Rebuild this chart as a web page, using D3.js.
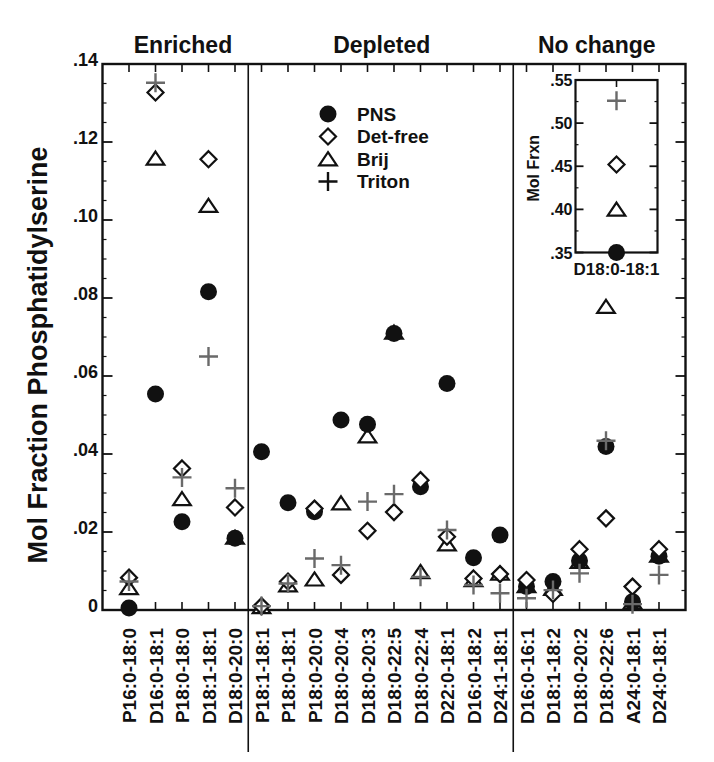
<!DOCTYPE html>
<html>
<head>
<meta charset="utf-8">
<script src="https://cdn.jsdelivr.net/npm/d3@7"></script>
<style>
  html, body { margin: 0; padding: 0; background: #fff; }
  svg { display: block; font-family: "Liberation Sans", Arial, Helvetica, sans-serif; font-weight: bold; }
</style>
</head>
<body>
<svg id="chart" width="714" height="762"></svg>
<script>
// lipid species, in plotting order
const categories = [
  'P16:0-18:0', 'D16:0-18:1', 'P18:0-18:0', 'D18:1-18:1', 'D18:0-20:0',
  'P18:1-18:1', 'P18:0-18:1', 'P18:0-20:0', 'D18:0-20:4', 'D18:0-20:3', 'D18:0-22:5',
  'D18:0-22:4', 'D22:0-18:1', 'D16:0-18:2', 'D24:1-18:1',
  'D16:0-16:1', 'D18:1-18:2', 'D18:0-20:2', 'D18:0-22:6', 'A24:0-18:1', 'D24:0-18:1'
];
const sections = [
  { name: 'Enriched', first: 'P16:0-18:0', last: 'D18:0-20:0' },
  { name: 'Depleted', first: 'P18:1-18:1', last: 'D24:1-18:1' },
  { name: 'No change', first: 'D16:0-16:1', last: 'D24:0-18:1' }
];
const pns = [0.0005, 0.0554, 0.0226, 0.0816, 0.0184, 0.0406, 0.0275, 0.0252, 0.0487, 0.0476, 0.0709,
  0.0316, 0.0581, 0.0134, 0.0192, 0.0060, 0.0073, 0.0126, 0.0419, 0.0021, 0.0138];
const detFree = [0.0083, 0.1327, 0.0363, 0.1156, 0.0263, 0.0010, 0.0073, 0.0260, 0.0090, 0.0203, 0.0251,
  0.0333, 0.0188, 0.0081, 0.0092, 0.0077, 0.0041, 0.0156, 0.0235, 0.0060, 0.0156];
const brij = [0.0057, 0.1158, 0.0285, 0.1037, 0.0186, 0.0008, 0.0064, 0.0079, 0.0274, 0.0446, 0.0712,
  0.0098, 0.0169, 0.0077, 0.0094, 0.0062, 0.0055, 0.0124, 0.0778, 0.0020, 0.0140];
const triton = [0.0073, 0.1352, 0.0340, 0.0650, 0.0312, 0.0010, 0.0068, 0.0132, 0.0115, 0.0278, 0.0297,
  0.0085, 0.0205, 0.0064, 0.0043, 0.0030, 0.0051, 0.0094, 0.0434, 0.0015, 0.0090];
const yTicks = [0, 0.02, 0.04, 0.06, 0.08, 0.10, 0.12, 0.14];
const yTickLabels = ['0', '.02', '.04', '.06', '.08', '.10', '.12', '.14'];

// inset: the one dominant species, plotted on its own scale
const insetCategory = 'D18:0-18:1';
const insetValues = { pns: 0.350, detFree: 0.452, brij: 0.400, triton: 0.526 };
const insetTicks = [0.35, 0.40, 0.45, 0.50, 0.55];
const insetTickLabels = ['.35', '.40', '.45', '.50', '.55'];

const seriesNames = ['PNS', 'Det-free', 'Brij', 'Triton'];

const TRITON_GRAY = '#6a6a6a';
const shapes = {
  circle: g => g.append('circle').attr('r', 8.5).attr('fill', '#111'),
  diamond: g => g.append('path').attr('d', 'M0,-8L8,0L0,8L-8,0Z').attr('fill', '#fff').attr('stroke', '#111').attr('stroke-width', 2.2),
  triangle: g => g.append('path').attr('d', 'M0,-6.8L8.8,6.3L-8.8,6.3Z').attr('fill', '#fff').attr('stroke', '#111').attr('stroke-width', 2.2),
  plus: (g, color) => g.append('path').attr('d', 'M-9.5,0H9.5M0,-9.5V9.5').attr('fill', 'none').attr('stroke', color || TRITON_GRAY).attr('stroke-width', 2.4)
};

const svg = d3.select('#chart');
const plotLeft = 102.5, plotRight = 685.5, plotTop = 64, plotBottom = 610;

const x = d3.scalePoint().domain(categories).range([plotLeft, plotRight]).padding(1);
const y = d3.scaleLinear().domain([0, 0.14]).range([plotBottom, plotTop]);
const step = x.step();

function drawMarks(group, cx, cy, kind, color) {
  const g = group.append('g').attr('transform', `translate(${cx},${cy})`);
  shapes[kind](g, color);
}

// section dividers run down through the label area
sections.slice(1).forEach(s => {
  const xx = x(s.first) - step / 2;
  svg.append('line').attr('x1', xx).attr('x2', xx).attr('y1', plotTop).attr('y2', 752)
    .attr('stroke', '#111').attr('stroke-width', 1.6);
});

// section titles
sections.forEach(s => {
  const x0 = x(s.first) - step / 2, x1 = x(s.last) + step / 2;
  svg.append('text').attr('x', (x0 + x1) / 2 + (s.name === 'No change' ? 4 : 1)).attr('y', 53)
    .attr('text-anchor', 'middle').attr('font-size', 23).attr('fill', '#111').text(s.name);
});

// ticks: major every .02, minor every .005, on both sides
const minor = d3.range(0, 0.14 + 1e-9, 0.005);
minor.forEach(v => {
  const isMajor = Math.abs(v / 0.02 - Math.round(v / 0.02)) < 1e-6;
  const len = isMajor ? 10 : 4;
  svg.append('line').attr('x1', plotLeft).attr('x2', plotLeft + len).attr('y1', y(v)).attr('y2', y(v))
    .attr('stroke', '#111').attr('stroke-width', isMajor ? 1.8 : 1.2);
  svg.append('line').attr('x1', plotRight).attr('x2', plotRight - len).attr('y1', y(v)).attr('y2', y(v))
    .attr('stroke', '#111').attr('stroke-width', isMajor ? 1.8 : 1.2);
});
yTicks.forEach((v, i) => {
  svg.append('text').attr('x', 98).attr('y', y(v) + 2).attr('text-anchor', 'end')
    .attr('font-size', 18).attr('fill', '#111').text(yTickLabels[i]);
});
categories.forEach(c => {
  svg.append('line').attr('x1', x(c)).attr('x2', x(c)).attr('y1', plotTop).attr('y2', plotTop + 8)
    .attr('stroke', '#111').attr('stroke-width', 1.6);
  svg.append('line').attr('x1', x(c)).attr('x2', x(c)).attr('y1', plotBottom).attr('y2', plotBottom - 8)
    .attr('stroke', '#111').attr('stroke-width', 1.6);
  svg.append('text').attr('transform', `translate(${x(c) + 7},628) rotate(-90)`)
    .attr('text-anchor', 'end').attr('font-size', 19).attr('fill', '#111').text(c);
});

// frame
svg.append('rect').attr('x', plotLeft).attr('y', plotTop).attr('width', plotRight - plotLeft).attr('height', plotBottom - plotTop)
  .attr('fill', 'none').attr('stroke', '#111').attr('stroke-width', 2.4);

// y-axis title
svg.append('text').attr('transform', 'translate(47,355) rotate(-90)').attr('text-anchor', 'middle')
  .attr('font-size', 27).attr('fill', '#111').text('Mol Fraction Phosphatidylserine');

// data points: Brij under PNS, Det-free and Triton on top
const marks = svg.append('g');
categories.forEach((c, i) => {
  drawMarks(marks, x(c), y(brij[i]), 'triangle');
  drawMarks(marks, x(c), y(pns[i]), 'circle');
  drawMarks(marks, x(c), y(detFree[i]), 'diamond');
  drawMarks(marks, x(c), y(triton[i]), 'plus');
});

// legend
const legendKinds = ['circle', 'diamond', 'triangle', 'plus'];
seriesNames.forEach((name, i) => {
  const ly = 114 + i * 22.5;
  drawMarks(svg, 328, ly, legendKinds[i], '#111');
  svg.append('text').attr('x', 357).attr('y', ly).attr('dominant-baseline', 'central')
    .attr('font-size', 19).attr('fill', '#111').text(name);
});

// inset
const iLeft = 575.5, iRight = 657.5, iTop = 80, iBottom = 252.5;
const iy = d3.scaleLinear().domain([0.35, 0.55]).range([iBottom, iTop]);
const ix = d3.scalePoint().domain([insetCategory]).range([iLeft, iRight]).padding(0.5);
svg.append('rect').attr('x', iLeft).attr('y', iTop).attr('width', iRight - iLeft).attr('height', iBottom - iTop)
  .attr('fill', '#fff').attr('stroke', '#111').attr('stroke-width', 2.2);
d3.range(0.35, 0.55 + 1e-9, 0.025).forEach(v => {
  const isMajor = Math.abs(v / 0.05 - Math.round(v / 0.05)) < 1e-6;
  const len = isMajor ? 8 : 3;
  svg.append('line').attr('x1', iLeft).attr('x2', iLeft + len).attr('y1', iy(v)).attr('y2', iy(v))
    .attr('stroke', '#111').attr('stroke-width', isMajor ? 1.8 : 1.2);
  svg.append('line').attr('x1', iRight).attr('x2', iRight - len).attr('y1', iy(v)).attr('y2', iy(v))
    .attr('stroke', '#111').attr('stroke-width', isMajor ? 1.8 : 1.2);
});
svg.append('line').attr('x1', ix(insetCategory)).attr('x2', ix(insetCategory)).attr('y1', iTop).attr('y2', iTop + 7)
  .attr('stroke', '#111').attr('stroke-width', 1.6);
insetTicks.forEach((v, i) => {
  svg.append('text').attr('x', iLeft - 3).attr('y', iy(v) + 6).attr('text-anchor', 'end')
    .attr('font-size', 16).attr('fill', '#111').text(insetTickLabels[i]);
});
svg.append('text').attr('transform', `translate(539,${(iTop + iBottom) / 2 + 2}) rotate(-90)`).attr('text-anchor', 'middle')
  .attr('font-size', 16).attr('fill', '#111').text('Mol Frxn');
svg.append('text').attr('x', ix(insetCategory)).attr('y', 275).attr('text-anchor', 'middle')
  .attr('font-size', 17).attr('fill', '#111').text(insetCategory);
const cx = ix(insetCategory);
drawMarks(svg, cx, iy(insetValues.brij), 'triangle');
drawMarks(svg, cx, iy(insetValues.pns), 'circle');
drawMarks(svg, cx, iy(insetValues.detFree), 'diamond');
drawMarks(svg, cx, iy(insetValues.triton), 'plus');
</script>
</body>
</html>
